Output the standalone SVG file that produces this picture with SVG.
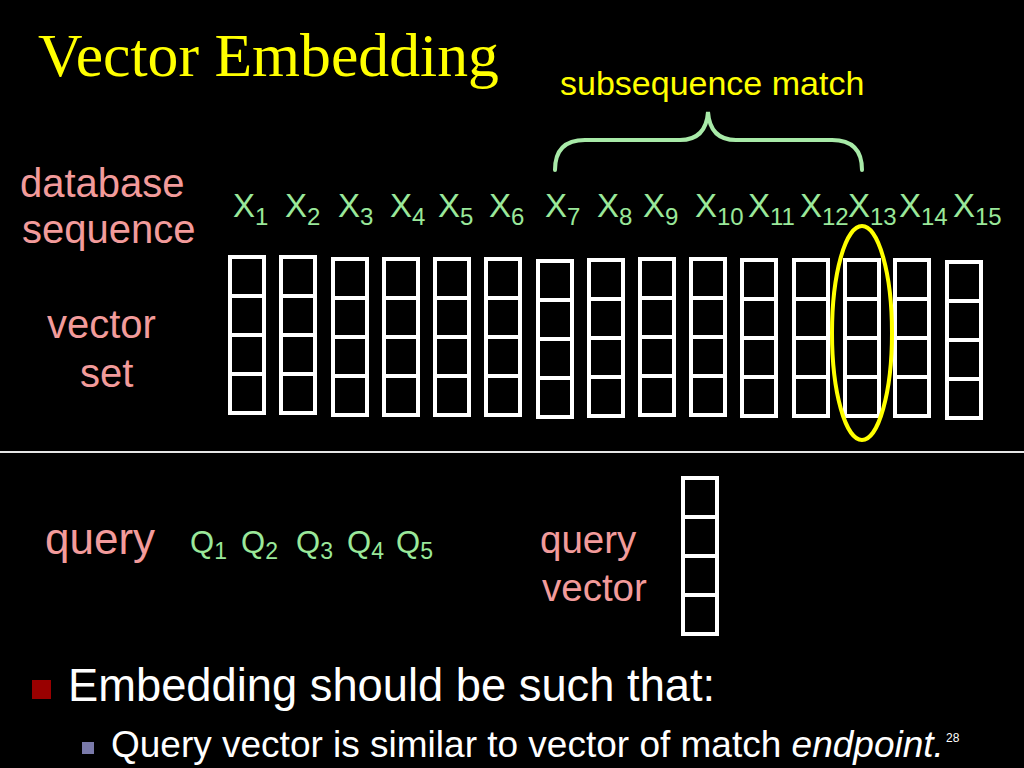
<svg xmlns="http://www.w3.org/2000/svg" width="1024" height="768" viewBox="0 0 1024 768">
<defs>
<style>
.sans{font-family:"Liberation Sans",Arial,sans-serif}
.serif{font-family:"Liberation Serif","Times New Roman",serif}
.green{fill:#9ae89a}
.pink{fill:#f29b9b}
.yellow{fill:#ffff00}
.white{fill:#ffffff}
.box{fill:none;stroke:#ffffff;stroke-width:4}
.xl{font-size:33px}
.xs{font-size:24px}
.ql{font-size:31px}
.qs{font-size:23px}
</style>
<g id="cell-col">
<rect class="box" x="2" y="2" width="34" height="156"/>
<line class="box" x1="2" y1="41" x2="36" y2="41"/>
<line class="box" x1="2" y1="80" x2="36" y2="80"/>
<line class="box" x1="2" y1="119" x2="36" y2="119"/>
</g>
</defs>
<rect x="0" y="0" width="1024" height="768" fill="#000000"/>

<g id="title">
<text class="serif yellow" x="38" y="76" font-size="61.7">Vector Embedding</text>
</g>

<g id="labels-left">
<text class="sans pink" x="20" y="197" font-size="40">database</text>
<text class="sans pink" x="22" y="243" font-size="40">sequence</text>
<text class="sans pink" x="47" y="338" font-size="40">vector</text>
<text class="sans pink" x="80" y="387" font-size="40">set</text>
</g>

<g id="subsequence-match">
<text class="sans yellow" x="560" y="95" font-size="34">subsequence match</text>
</g>

<g id="x-labels" class="sans green">
<text class="xl" x="233" y="217">X<tspan class="xs" dy="8">1</tspan></text>
<text class="xl" x="285" y="217">X<tspan class="xs" dy="8">2</tspan></text>
<text class="xl" x="338" y="217">X<tspan class="xs" dy="8">3</tspan></text>
<text class="xl" x="390" y="217">X<tspan class="xs" dy="8">4</tspan></text>
<text class="xl" x="438" y="217">X<tspan class="xs" dy="8">5</tspan></text>
<text class="xl" x="489" y="217">X<tspan class="xs" dy="8">6</tspan></text>
<text class="xl" x="545" y="217">X<tspan class="xs" dy="8">7</tspan></text>
<text class="xl" x="597" y="217">X<tspan class="xs" dy="8">8</tspan></text>
<text class="xl" x="643" y="217">X<tspan class="xs" dy="8">9</tspan></text>
<text class="xl" x="695" y="217">X<tspan class="xs" dy="8">10</tspan></text>
<text class="xl" x="748" y="217">X<tspan class="xs" dy="8">11</tspan></text>
<text class="xl" x="800" y="217">X<tspan class="xs" dy="8">12</tspan></text>
<text class="xl" x="848" y="217">X<tspan class="xs" dy="8">13</tspan></text>
<text class="xl" x="899" y="217">X<tspan class="xs" dy="8">14</tspan></text>
<text class="xl" x="953" y="217">X<tspan class="xs" dy="8">15</tspan></text>
</g>

<g id="vector-set">
<use href="#cell-col" x="228" y="255"/>
<use href="#cell-col" x="279" y="255"/>
<use href="#cell-col" x="331" y="257"/>
<use href="#cell-col" x="382" y="257"/>
<use href="#cell-col" x="433" y="257"/>
<use href="#cell-col" x="484" y="257"/>
<use href="#cell-col" x="536" y="259"/>
<use href="#cell-col" x="587" y="258"/>
<use href="#cell-col" x="638" y="257"/>
<use href="#cell-col" x="689" y="257"/>
<use href="#cell-col" x="740" y="258"/>
<use href="#cell-col" x="792" y="258"/>
<use href="#cell-col" x="843" y="258"/>
<use href="#cell-col" x="893" y="258"/>
<use href="#cell-col" x="945" y="260"/>
</g>

<g id="connectors">
<path d="M555,170 Q555,140 585,140 L680,140 Q706,140 708,112 Q710,140 736,140 L832,140 Q862,140 862,170" fill="none" stroke="#a8eaa8" stroke-width="4" stroke-linecap="round"/>
<ellipse cx="862" cy="333" rx="30" ry="107" fill="none" stroke="#ffff00" stroke-width="4"/>
<line x1="0" y1="452" x2="1024" y2="452" stroke="#e6e6e6" stroke-width="2"/>
</g>

<g id="query">
<text class="sans pink" x="45" y="554" font-size="44">query</text>
</g>

<g id="q-labels" class="sans green">
<text class="ql" x="190" y="553">Q<tspan class="qs" dy="6">1</tspan></text>
<text class="ql" x="241" y="553">Q<tspan class="qs" dy="6">2</tspan></text>
<text class="ql" x="296" y="553">Q<tspan class="qs" dy="6">3</tspan></text>
<text class="ql" x="347" y="553">Q<tspan class="qs" dy="6">4</tspan></text>
<text class="ql" x="396" y="553">Q<tspan class="qs" dy="6">5</tspan></text>
</g>

<g id="query-vector-label">
<text class="sans pink" x="540" y="553" font-size="38.5">query</text>
<text class="sans pink" x="542" y="601" font-size="38.5">vector</text>
</g>

<g id="query-vector">
<use href="#cell-col" x="681" y="476"/>
</g>

<g id="bullets">
<rect x="32" y="680" width="19" height="19" fill="#990000"/>
<text class="sans white" x="68" y="701" font-size="45.3">Embedding should be such that:</text>
<rect x="82" y="742" width="12" height="12" fill="#7a7aaa"/>
<text class="sans white" x="111" y="757" font-size="37">Query vector is similar to vector of match <tspan font-style="italic">endpoint.</tspan></text>
<text class="sans white" x="946" y="742" font-size="12">28</text>
</g>
</svg>
